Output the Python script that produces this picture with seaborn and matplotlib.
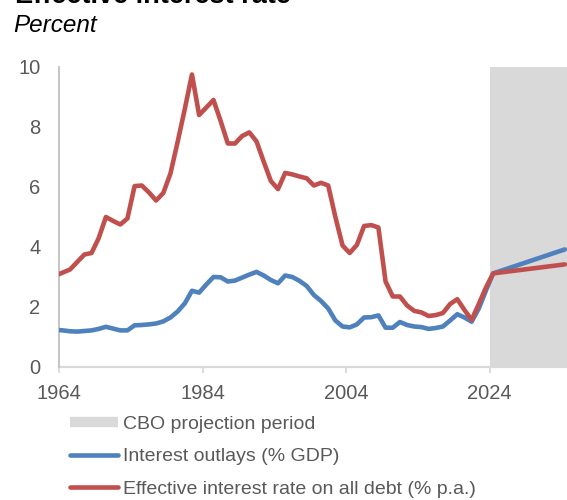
import numpy as np
import pandas as pd
import matplotlib
matplotlib.use("Agg")
import matplotlib.pyplot as plt
from matplotlib.lines import Line2D
import seaborn as sns

# ---- data (fiscal years, plotted at mid-year) ----
years = list(range(1963, 2035))
interest_outlays = [
    1.24, 1.22, 1.19, 1.18, 1.20, 1.22, 1.27, 1.34, 1.28, 1.22,   # 1963-1972
    1.22, 1.39, 1.40, 1.42, 1.45, 1.52, 1.65, 1.85, 2.12, 2.54,   # 1973-1982
    2.48, 2.75, 3.00, 2.99, 2.85, 2.88, 2.98, 3.08, 3.17, 3.05,   # 1983-1992
    2.90, 2.79, 3.05, 3.00, 2.87, 2.70, 2.40, 2.20, 1.95, 1.55,   # 1993-2002
    1.35, 1.32, 1.42, 1.65, 1.66, 1.72, 1.31, 1.31, 1.50, 1.40,   # 2003-2012
    1.35, 1.33, 1.27, 1.30, 1.35, 1.55, 1.76, 1.65, 1.51, 1.95,   # 2013-2022
    2.55, 3.12, 3.20, 3.28, 3.36, 3.44, 3.52, 3.60, 3.68, 3.76,   # 2023-2032
    3.84, 3.92,                                                   # 2033-2034
]
effective_rate = [
    3.05, 3.15, 3.25, 3.50, 3.75, 3.80, 4.30, 5.00, 4.87, 4.75,   # 1963-1972
    4.95, 6.03, 6.05, 5.82, 5.55, 5.80, 6.45, 7.50, 8.60, 9.75,   # 1973-1982
    8.40, 8.65, 8.90, 8.20, 7.45, 7.45, 7.70, 7.82, 7.52, 6.85,   # 1983-1992
    6.20, 5.93, 6.47, 6.42, 6.35, 6.29, 6.05, 6.14, 6.05, 5.00,   # 1993-2002
    4.05, 3.80, 4.07, 4.70, 4.73, 4.65, 2.85, 2.35, 2.35, 2.05,   # 2003-2012
    1.87, 1.82, 1.70, 1.73, 1.80, 2.10, 2.26, 1.90, 1.57, 2.10,   # 2013-2022
    2.65, 3.12, 3.15, 3.18, 3.21, 3.24, 3.27, 3.30, 3.33, 3.36,   # 2023-2032
    3.39, 3.42,                                                   # 2033-2034
]
projection_start = 2024
x_ticks = [1964, 1984, 2004, 2024]
y_ticks = [0, 2, 4, 6, 8, 10]

label_outlays = "Interest outlays (% GDP)"
label_rate = "Effective interest rate on all debt (% p.a.)"
label_cbo = "CBO projection period"

df = pd.DataFrame({
    "year": np.array(years) + 0.5,
    label_outlays: interest_outlays,
    label_rate: effective_rate,
}).melt(id_vars="year", var_name="series", value_name="value")

# ---- style ----
sns.set_theme(style="white")
plt.rcParams["font.family"] = ["Liberation Sans", "DejaVu Sans"]
text_col = "#595959"
blue = "#4F81BD"
red = "#C0504D"
shade = "#D9D9D9"

fig = plt.figure(figsize=(5.67, 5.0), dpi=100)
ax = fig.add_axes([59.3 / 567, 1 - 367 / 500, 1 - 59.3 / 567, 300 / 500])

ax.axvspan(projection_start, 2040, color=shade, lw=0, zorder=0)

sns.lineplot(data=df, x="year", y="value", hue="series",
             palette={label_outlays: blue, label_rate: red},
             linewidth=3.3, ax=ax, legend=False, zorder=3)
for ln in ax.lines:
    ln.set_solid_capstyle("round")
    ln.set_solid_joinstyle("round")

ax.set_xlim(1964, 2034.8)
ax.set_ylim(0, 10)
ax.set_xticks(x_ticks)
ax.set_yticks(y_ticks)
ax.set_xlabel("")
ax.set_ylabel("")

for s in ["top", "right"]:
    ax.spines[s].set_visible(False)
ax.spines["left"].set_color("#BFBFBF")
ax.spines["left"].set_linewidth(1.3)
ax.spines["bottom"].set_color("#D9D9D9")
ax.spines["bottom"].set_linewidth(1.6)
ax.spines["bottom"].set_zorder(1)

ax.tick_params(axis="x", direction="out", length=4.5, width=1.3, color="#D9D9D9",
               labelsize=14.5, labelcolor=text_col, pad=8, bottom=True)
ax.tick_params(axis="y", length=0, labelsize=14.5, labelcolor=text_col, pad=13.5, left=False)

# ---- titles ----
fig.text(15 / 567, 1 - 3 / 500, "Effective interest rate", fontsize=19.5,
         fontweight="bold", color="#000000", ha="left", va="baseline")
fig.text(13 / 567, 1 - 32 / 500, "Percent", fontsize=17.5, fontstyle="italic",
         color="#000000", ha="left", va="baseline")

# ---- legend ----
handles = [
    Line2D([0], [0], color=shade, lw=7.5, solid_capstyle="butt"),
    Line2D([0], [0], color=blue, lw=3.3, solid_capstyle="round"),
    Line2D([0], [0], color=red, lw=3.3, solid_capstyle="round"),
]
leg = fig.legend(handles, [label_cbo, label_outlays, label_rate],
                 loc="upper left", bbox_to_anchor=(70 / 567, 1 - 415 / 500),
                 frameon=False, fontsize=14, handlelength=2.45, handletextpad=0.3,
                 labelspacing=0.78, borderpad=0, borderaxespad=0)
for t in leg.get_texts():
    t.set_color(text_col)

fig.savefig("out.png", dpi=100)
